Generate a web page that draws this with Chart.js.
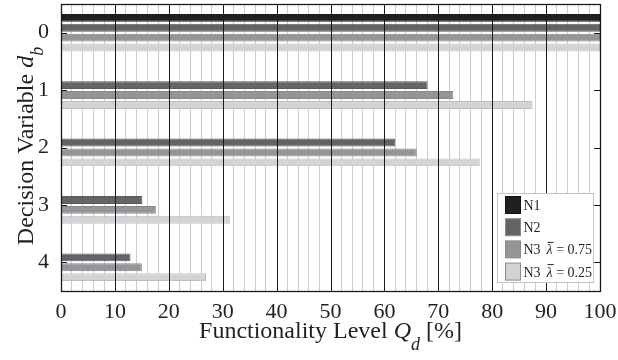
<!DOCTYPE html>
<html><head><meta charset="utf-8">
<script src="https://cdn.jsdelivr.net/npm/chart.js@4/dist/chart.umd.min.js"></script>
<style>html,body{margin:0;padding:0;background:#fff}
#probe{font-family:'Liberation Serif';position:absolute;left:-999px;top:-999px}
#probe i{font-style:italic}</style>
</head><body>
<span id="probe">0 <i>Q</i></span>
<canvas id="c" width="618" height="360"></canvas>
<script>
// ---- data ----
const categories = ['0', '1', '2', '3', '4'];
const n1Values  = [100, 0, 0, 0, 0];
const n2Values  = [100, 68, 62, 15.1, 12.9];
const n3aValues = [100, 72.8, 66, 17.6, 15];
const n3bValues = [100, 87.5, 77.7, 31.4, 26.9];
const seriesLabels = ['N1', 'N2', 'N3 \u03BB\u0304 = 0.75', 'N3 \u03BB\u0304 = 0.25'];
const majorTicks = [0, 10, 20, 30, 40, 50, 60, 70, 80, 90, 100];

const FONT = "'Liberation Serif'";
const fills   = ['#231f20', '#636466', '#939598', '#d1d3d4'];
const borders = ['#1a1718', '#5a5b5d', '#86888b', '#bfc1c2'];

const datasets = [n1Values, n2Values, n3aValues, n3bValues].map((vals, i) => ({
  label: seriesLabels[i],
  data: vals,
  backgroundColor: fills[i],
  borderColor: borders[i],
  borderWidth: ctx => (ctx.raw ? 1 : 0),
  categoryPercentage: 0.69,
  barPercentage: 0.8
}));

const decor = {
  id: 'decor',
  afterDatasetsDraw(chart) {
    const { ctx, chartArea: { left, right, top, bottom }, scales: { x, y } } = chart;
    ctx.save();
    ctx.strokeStyle = '#1a1a1a';
    ctx.lineWidth = 1;
    majorTicks.forEach(v => {
      const px = Math.round(x.getPixelForValue(v)) + 0.5;
      ctx.beginPath(); ctx.moveTo(px, top); ctx.lineTo(px, bottom); ctx.stroke();
    });
    ctx.lineWidth = 1.3;
    ctx.strokeRect(Math.round(left) + 0.5, Math.round(top) + 0.5,
                   Math.round(right - left), Math.round(bottom - top));
    ctx.lineWidth = 1;
    categories.forEach((c, i) => {
      const py = Math.round(y.getPixelForValue(i)) + 0.5;
      ctx.beginPath(); ctx.moveTo(left, py); ctx.lineTo(left + 6, py); ctx.stroke();
      ctx.beginPath(); ctx.moveTo(right - 6, py); ctx.lineTo(right, py); ctx.stroke();
    });
    ctx.restore();
  },
  afterDraw(chart) {
    const { ctx, chartArea: { left, right, top, bottom } } = chart;
    ctx.save();
    ctx.fillStyle = '#231f20';
    ctx.textBaseline = 'alphabetic';
    // x title
    const parts = [
      { t: 'Functionality Level ', f: `24px ${FONT}`, dy: 0 },
      { t: 'Q', f: `italic 24px ${FONT}`, dy: 0 },
      { t: 'd', f: `italic 18px ${FONT}`, dy: 12 },
      { t: ' [%]', f: `24px ${FONT}`, dy: 0 }
    ];
    let w = 0;
    parts.forEach(p => { ctx.font = p.f; p.w = ctx.measureText(p.t).width; w += p.w; });
    let cx = (left + right) / 2 - w / 2;
    parts.forEach(p => { ctx.font = p.f; ctx.fillText(p.t, cx, 338 + p.dy); cx += p.w; });
    // y title (rotated)
    const yparts = [
      { t: 'Decision Variable ', f: `24px ${FONT}`, dy: 0 },
      { t: 'd', f: `italic 24px ${FONT}`, dy: 0 },
      { t: 'b', f: `italic 18px ${FONT}`, dy: 10 }
    ];
    w = 0;
    yparts.forEach(p => { ctx.font = p.f; p.w = ctx.measureText(p.t).width; w += p.w; });
    ctx.translate(33, 146);
    ctx.rotate(-Math.PI / 2);
    cx = -w / 2;
    yparts.forEach(p => { ctx.font = p.f; ctx.fillText(p.t, cx, p.dy); cx += p.w; });
    ctx.setTransform(1, 0, 0, 1, 0, 0);
    // legend
    const bw = 96, bh = 89;
    const bx = Math.round(right - 7 - bw) + 0.5, by = Math.round(bottom - 9 - bh) + 0.5;
    ctx.fillStyle = '#ffffff';
    ctx.fillRect(bx, by, bw, bh);
    ctx.strokeStyle = '#c4c4c4';
    ctx.lineWidth = 1;
    ctx.strokeRect(bx, by, bw, bh);
    chart.data.datasets.forEach((ds, i) => {
      const ry = by + 3 + i * 22.2;
      ctx.fillStyle = ds.backgroundColor;
      ctx.fillRect(bx + 8, ry, 15, 17);
      ctx.strokeStyle = i === 0 ? '#111' : '#8a8a8a';
      ctx.strokeRect(bx + 8, ry, 15, 17);
      ctx.fillStyle = '#231f20';
      const lbl = ds.label;
      const tx = bx + 26, ty = ry + 13.5;
      const idx = lbl.indexOf('\u03BB');
      ctx.font = `14px ${FONT}`;
      if (idx < 0) {
        ctx.fillText(lbl, tx, ty);
      } else {
        const pre = lbl.slice(0, idx).trim();
        const post = ' ' + lbl.slice(idx + 2).trim();
        ctx.fillText(pre, tx, ty);
        let xx = tx + ctx.measureText(pre).width + 6;
        ctx.font = `italic 14px ${FONT}`;
        ctx.fillText('\u03BB', xx, ty);
        const lw = ctx.measureText('\u03BB').width;
        ctx.beginPath(); ctx.lineWidth = 1; ctx.strokeStyle = '#231f20';
        ctx.moveTo(xx + 1, ty - 12); ctx.lineTo(xx + lw + 1, ty - 12); ctx.stroke();
        xx += lw;
        ctx.font = `14px ${FONT}`;
        ctx.fillText(post, xx, ty);
      }
    });
    ctx.restore();
  }
};

function zeroPad(s) { s.paddingTop = 0; s.paddingBottom = 0; s.paddingLeft = 0; s.paddingRight = 0; }

function build() {
  new Chart(document.getElementById('c'), {
    type: 'bar',
    data: { labels: categories, datasets },
    options: {
      indexAxis: 'y',
      responsive: false,
      animation: false,
      devicePixelRatio: 1,
      layout: { padding: { top: 4, right: 18, left: 0, bottom: 0 } },
      plugins: { legend: { display: false }, tooltip: { enabled: false } },
      scales: {
        x: {
          type: 'linear', min: 0, max: 100, position: 'bottom',
          ticks: {
            stepSize: 2, autoSkip: false, maxRotation: 0, padding: 8,
            callback: v => (v % 10 === 0 ? String(v) : ''),
            font: { family: FONT, size: 22 }, color: '#231f20'
          },
          grid: {
            drawTicks: false, lineWidth: 1,
            color: c => (c.tick && c.tick.value % 10 === 0 ? 'rgba(0,0,0,0)' : '#cdcdcd')
          },
          border: { display: false },
          afterFit: s => { s.height = 69; zeroPad(s); }
        },
        y: {
          type: 'category',
          ticks: { padding: 12, font: { family: FONT, size: 22 }, color: '#231f20' },
          grid: { display: false, drawTicks: false },
          border: { display: false },
          afterFit: s => { s.width = 61; zeroPad(s); }
        }
      }
    },
    plugins: [decor]
  });
}

Promise.all([
  document.fonts.load("22px 'Liberation Serif'"),
  document.fonts.load("italic 22px 'Liberation Serif'")
]).then(build, build);
</script>
</body></html>
